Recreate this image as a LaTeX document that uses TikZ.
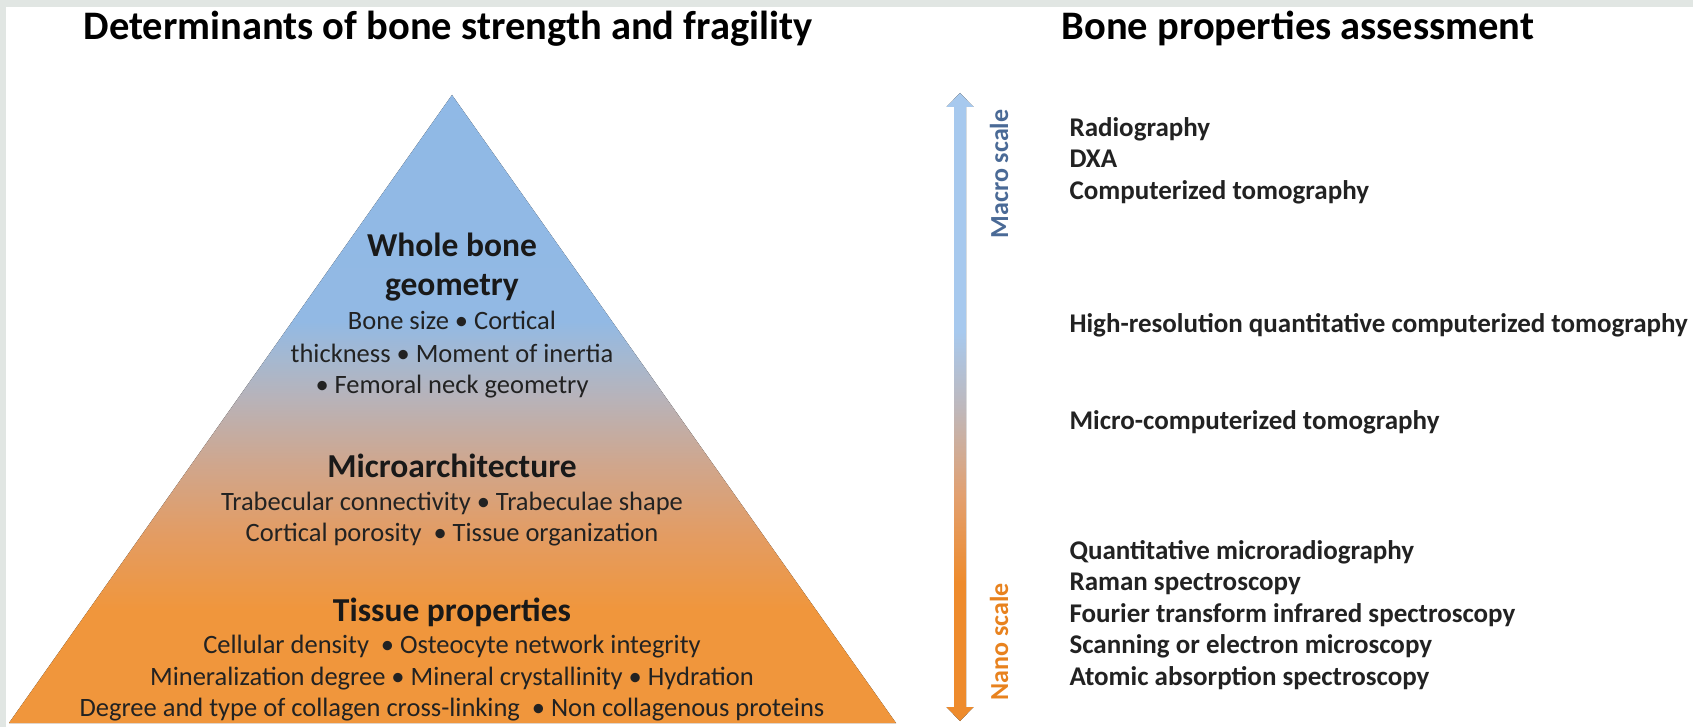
\documentclass[tikz,border=0pt]{standalone}
\usepackage{fontspec}
\setmainfont{Carlito}
\usetikzlibrary{positioning}

\definecolor{framegray}{HTML}{E1E6E3}
\definecolor{boneblue}{HTML}{8DB8E8}
\definecolor{boneorange}{HTML}{F0963C}
\definecolor{macroblue}{HTML}{4A6A96}
\definecolor{nanoorange}{HTML}{E8821E}
\definecolor{inktext}{HTML}{222222}

% pyramid: orange at the base, blue at the tip
\pgfdeclareverticalshading{bonefade}{100bp}{%
  color(0bp)=(boneorange); color(34bp)=(boneorange);
  color(40bp)=(rgb,255:red,227;green,156;blue,99);
  color(45.5bp)=(rgb,255:red,208;green,166;blue,140);
  color(51bp)=(rgb,255:red,183;green,179;blue,186);
  color(54bp)=(rgb,255:red,165;green,184;blue,208);
  color(57bp)=(rgb,255:red,146;green,185;blue,228);
  color(100bp)=(boneblue)}
% scale bar, a bit lighter at the top
\pgfdeclareverticalshading{scalefade}{100bp}{%
  color(0bp)=(rgb,255:red,238;green,139;blue,44); color(36bp)=(rgb,255:red,238;green,139;blue,44);
  color(43bp)=(rgb,255:red,226;green,160;blue,112);
  color(50bp)=(rgb,255:red,190;green,184;blue,188);
  color(56bp)=(rgb,255:red,167;green,201;blue,238);
  color(100bp)=(rgb,255:red,167;green,201;blue,238)}

\tikzset{
  title/.style={anchor=base, font=\bfseries\fontsize{40.5}{46}\selectfont, text=black},
  level/.style={anchor=base, font=\bfseries\fontsize{33.5}{38}\selectfont, text=black!90},
  detail/.style={anchor=base, font=\fontsize{26.5}{31}\selectfont, text=inktext},
  method/.style={anchor=base west, font=\bfseries\fontsize{27}{32}\selectfont, text=inktext},
  scalelabel/.style={rotate=90, font=\bfseries\fontsize{26}{30}\selectfont}
}

\begin{document}
\begin{tikzpicture}[x=1pt, y=-1pt]

  % frame
  \fill[framegray] (0,0) rectangle (1693,727);
  \fill[white] (6,7) rectangle (1693,727);
  \useasboundingbox (0,0) rectangle (1693,727);

  \node[title] (lefttitle) at (448,40) {Determinants of bone strength and fragility};
  \node[title] (righttitle) at (1298,40) {Bone properties assessment};

  % pyramid
  \fill[shading=bonefade] (452,95) -- (896,723) -- (9,723) -- cycle;

  \foreach [count=\i] \y/\t in {257/Whole bone, 295/geometry, 477/Microarchitecture, 621/Tissue properties}
    \node[level] (lvl\i) at (452,\y) {\t};

  \foreach [count=\i] \y/\t in {
      329/Bone size • Cortical,
      362/thickness • Moment of inertia,
      393/• Femoral neck geometry,
      510/Trabecular connectivity • Trabeculae shape,
      541/Cortical porosity \ • Tissue organization,
      653/Cellular density \ • Osteocyte network integrity,
      685/Mineralization degree • Mineral crystallinity • Hydration,
      716/Degree and type of collagen cross-linking \ • Non collagenous proteins}
    \node[detail] (det\i) at (452,\y) {\t};

  % scale bar
  \fill[shading=scalefade] (960,93) -- (973.5,107) -- (966,107) -- (966,707) -- (973.5,707)
    -- (960,721) -- (946.5,707) -- (954,707) -- (954,107) -- (946.5,107) -- cycle;
  \node[scalelabel, text=macroblue] (macro) at (999,174) {Macro scale};
  \node[scalelabel, text=nanoorange] (nano) at (999,642) {Nano scale};

  % methods
  \foreach [count=\i] \y/\t in {
      137/Radiography, 168/DXA, 200/Computerized tomography,
      332/High-resolution quantitative computerized tomography,
      429/Micro-computerized tomography,
      559/Quantitative microradiography, 590/Raman spectroscopy,
      622/Fourier transform infrared spectroscopy,
      653/Scanning or electron microscopy, 685/Atomic absorption spectroscopy}
    \node[method] (meth\i) at (1066,\y) {\t};

\end{tikzpicture}
\end{document}
